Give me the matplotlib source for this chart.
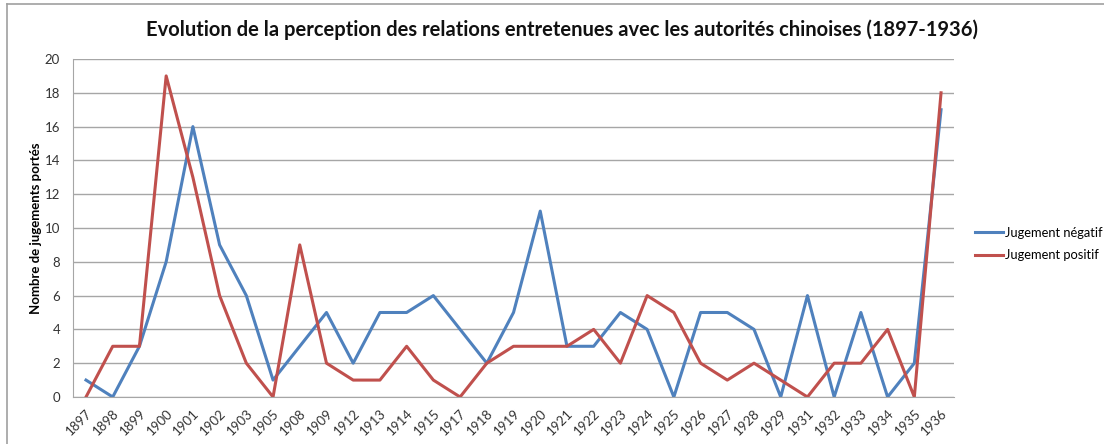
import matplotlib
matplotlib.use("Agg")
import matplotlib.pyplot as plt
from matplotlib.lines import Line2D

plt.rcParams['font.family'] = ['Lato', 'DejaVu Sans']

years = ["1897", "1898", "1899", "1900", "1901", "1902", "1903", "1905", "1908",
         "1909", "1912", "1913", "1914", "1915", "1917", "1918", "1919", "1920",
         "1921", "1922", "1923", "1924", "1925", "1926", "1927", "1928", "1929",
         "1931", "1932", "1933", "1934", "1935", "1936"]
negatif = [1, 0, 3, 8, 16, 9, 6, 1, 3, 5, 2, 5, 5, 6, 4, 2, 5, 11, 3, 3, 5, 4, 0,
           5, 5, 4, 0, 6, 0, 5, 0, 2, 17]
positif = [0, 3, 3, 19, 13, 6, 2, 0, 9, 2, 1, 1, 3, 1, 0, 2, 3, 3, 3, 4, 2, 6, 5,
           2, 1, 2, 1, 0, 2, 2, 4, 0, 18]
y_ticks = list(range(0, 21, 2))

W, H = 1104, 444
fig = plt.figure(figsize=(W / 100, H / 100), dpi=100)
ax = fig.add_axes([0.0658, 0.1059, 0.7987, 0.7612])

x = range(len(years))
ax.plot(x, negatif, color="#4F81BD", lw=2.2, label="Jugement négatif")
ax.plot(x, positif, color="#C0504D", lw=2.2, label="Jugement positif")

ax.set_xlim(-0.5, len(years) - 0.5)
ax.set_ylim(0, 20)
ax.set_yticks(y_ticks)
ax.set_xticks(list(x))
ax.set_xticklabels(years, rotation=45, ha="right", rotation_mode="anchor")
ax.tick_params(axis="both", length=0, labelsize=9.5, colors="#333333")
ax.tick_params(axis="x", pad=7)
ax.tick_params(axis="y", pad=9)
ax.grid(axis="y", color="#A6A6A6", lw=1)
ax.set_axisbelow(True)
for s in ["top", "right"]:
    ax.spines[s].set_visible(False)
ax.spines["left"].set_color("#A6A6A6")
ax.spines["bottom"].set_color("#A6A6A6")

ax.set_ylabel("Nombre de jugements portés", fontsize=9.5, fontweight="bold",
              labelpad=2)
fig.text(0.509, 0.932, "Evolution de la perception des relations entretenues avec les autorités chinoises (1897-1936)",
         ha="center", va="center", fontsize=14.5, fontweight="bold", color="#111111")

fig.legend(*ax.get_legend_handles_labels(), loc="center left",
           bbox_to_anchor=(975 / W, 1 - 244 / H), frameon=False,
           fontsize=9.3, handlelength=2.2, handletextpad=0.1, labelspacing=0.8,
           borderpad=0, borderaxespad=0)

# chart frame: top and left edges only
fig.add_artist(Line2D([7 / W, 1], [1 - 4.5 / H, 1 - 4.5 / H], transform=fig.transFigure,
                      color="#A0A0A0", lw=1.2))
fig.add_artist(Line2D([7 / W, 7 / W], [0, 1 - 4.5 / H], transform=fig.transFigure,
                      color="#A0A0A0", lw=1.2))

fig.savefig("out.png", dpi=100)
